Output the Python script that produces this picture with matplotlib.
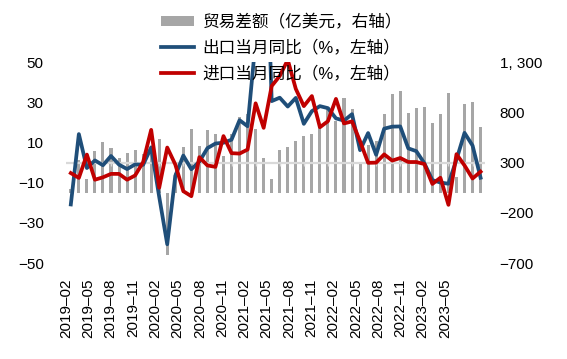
import numpy as np
import matplotlib
matplotlib.use("Agg")
import matplotlib.pyplot as plt
from matplotlib.ticker import FuncFormatter

plt.rcParams['font.family'] = ['Liberation Sans', 'Noto Sans CJK SC', 'DejaVu Sans']

# monthly data, 2019-02 .. 2023-05
months = [f"{y}-{m:02d}" for y in range(2019, 2024) for m in range(1, 13)]
months = months[1:months.index("2023-05") + 1]

exports_yoy = [-20.8, 14.2, -2.7, 1.1, -1.3, 3.3, -1.0, -3.2, -0.9, -1.1, 7.6,
               -17.0, -40.6, -6.6, 3.5, -3.3, 0.5, 7.2, 9.5, 9.9, 11.4, 21.1, 18.1,
               60.6, 154.9, 30.6, 32.3, 27.9, 32.2, 19.3, 25.6, 28.1, 27.1, 22.0, 20.9,
               24.1, 6.2, 14.7, 3.9, 16.9, 17.9, 18.0, 7.1, 5.7, -0.3, -8.7, -9.9,
               -10.5, 1.5, 14.8, 8.5, -7.5]
imports_yoy = [-5.2, -7.6, 4.0, -8.5, -7.3, -5.6, -5.6, -8.5, -6.4, 0.3, 16.3,
               -12.5, 7.5, -0.9, -14.2, -16.7, 2.7, -1.4, -2.1, 13.2, 4.7, 4.5, 6.5,
               29.5, 17.3, 38.1, 43.1, 51.1, 36.7, 28.1, 33.1, 17.6, 20.6, 31.7, 19.5,
               20.5, 10.6, -0.1, 0.0, 4.1, 1.0, 2.3, 0.3, 0.3, -0.7, -10.6, -7.5,
               -21.0, 4.2, -1.4, -7.9, -4.5]
trade_balance = [41, 326, 138, 417, 510, 450, 348, 397, 428, 387, 467,
                 540, -620, 199, 453, 630, 464, 623, 589, 370, 584, 754, 780,
                 630, 350, 138, 428, 455, 515, 566, 583, 667, 845, 717, 944,
                 830, 290, 473, 511, 787, 979, 1013, 793, 847, 852, 698, 780,
                 990, 160, 882, 902, 658]

tick_labels = months[::3]

x = np.arange(len(months))

fig = plt.figure(figsize=(5.67, 3.59), dpi=100)
ax_bar = fig.add_axes([0.1164, 0.267, 0.739, 0.560])
ax = ax_bar.twinx()

# bars on right axis
bars = ax_bar.bar(x, trade_balance, width=0.38, color='#A6A6A6', label='贸易差额（亿美元，右轴）')
ax_bar.set_ylim(-700, 1300)
ax_bar.set_yticks([-700, -200, 300, 800, 1300])
ax_bar.yaxis.set_major_formatter(FuncFormatter(
    lambda v, p: f"{v:,.0f}".replace(",", ", ").replace("-", "\u2212")))
ax_bar.yaxis.tick_right()
ax_bar.tick_params(axis='y', length=0, pad=10.5, labelsize=11)

# lines on left axis
ax.axhline(0, color='#D9D9D9', lw=1.6, zorder=1)
ax.vlines(x[2::3], -1.6, 0, color='#D9D9D9', lw=1, zorder=1)
l1, = ax.plot(x, exports_yoy, color='#1F4E79', lw=2.7, label='出口当月同比（%，左轴）', zorder=3)
l2, = ax.plot(x, imports_yoy, color='#C00000', lw=2.7, label='进口当月同比（%，左轴）', zorder=4)
ax.set_ylim(-50, 50)
ax.set_yticks([-50, -30, -10, 10, 30, 50])
ax.yaxis.tick_left()
ax.tick_params(axis='y', length=0, pad=16, labelsize=11)

ax.set_xlim(-0.6, len(months) - 0.45)
ax_bar.set_xticks(np.linspace(-0.6, 46.57, len(tick_labels)))
ax_bar.set_xticklabels([t.replace("-", "\u2013") for t in tick_labels], rotation=90, fontsize=11)
ax_bar.tick_params(axis='x', length=0, pad=11)

for a in (ax, ax_bar):
    for s in a.spines.values():
        s.set_visible(False)

leg = ax.legend([bars, l1, l2], [bars.get_label(), l1.get_label(), l2.get_label()],
                loc='upper left', bbox_to_anchor=(0.284, 0.961), bbox_transform=fig.transFigure,
                frameon=False, fontsize=12, handlelength=2.0, handleheight=0.55,
                handletextpad=0.5, labelspacing=0.58, borderpad=0, borderaxespad=0)
leg.set_zorder(10)

fig.savefig("out.png", dpi=100)
